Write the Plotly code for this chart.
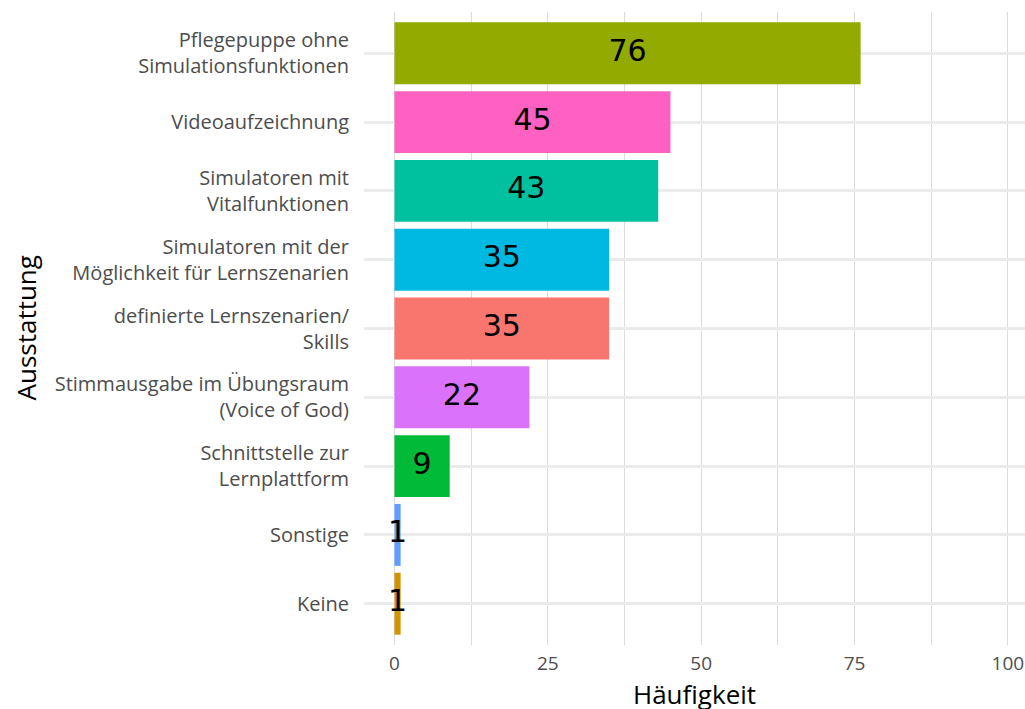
import plotly.graph_objects as go

categories = [
    "Pflegepuppe ohne<br>Simulationsfunktionen",
    "Videoaufzeichnung",
    "Simulatoren mit<br>Vitalfunktionen",
    "Simulatoren mit der<br>Möglichkeit für Lernszenarien",
    "definierte Lernszenarien/<br>Skills",
    "Stimmausgabe im Übungsraum<br>(Voice of God)",
    "Schnittstelle zur<br>Lernplattform",
    "Sonstige",
    "Keine",
]
values = [76, 45, 43, 35, 35, 22, 9, 1, 1]
colors = ["#93AA00", "#FF61C3", "#00C19F", "#00B9E3", "#F8766D",
          "#DB72FB", "#00BA38", "#619CFF", "#D39200"]
x_ticks = [0, 25, 50, 75, 100]

FONT = "Open Sans"

fig = go.Figure()
fig.add_trace(go.Bar(
    x=values, y=categories, orientation="h",
    marker=dict(color=colors, line=dict(width=0)),
    width=0.9, showlegend=False, hoverinfo="x+y",
))
fig.add_trace(go.Scatter(
    x=[v / 2 for v in values], y=categories, mode="text",
    text=[str(v) for v in values],
    textfont=dict(family="DejaVu Sans", size=30, color="black"),
    textposition="middle center", showlegend=False, cliponaxis=False,
    hoverinfo="skip",
))

fig.update_layout(
    width=1025, height=709,
    margin=dict(l=364, r=0, t=12, b=64, autoexpand=False),
    plot_bgcolor="white", paper_bgcolor="white",
    font=dict(family=FONT),
    xaxis=dict(
        range=[-4.97, 102.8],
        tickvals=x_ticks, ticktext=[str(t) for t in x_ticks],
        showgrid=True, gridcolor="#dcdcdc", gridwidth=1,
        minor=dict(dtick=12.5, tick0=0, showgrid=True, gridcolor="#dcdcdc", gridwidth=1),
        zeroline=False, showline=False, automargin=False,
        tickfont=dict(family=FONT, size=19, color="#4d4d4d"),
        ticks="", ticklabelstandoff=5,
    ),
    yaxis=dict(
        categoryorder="array", categoryarray=categories,
        range=[8.6, -0.6],
        showgrid=True, gridcolor="#ebebeb", gridwidth=3,
        zeroline=False, showline=False, automargin=False,
        tickfont=dict(family=FONT, size=20, color="#4d4d4d"),
        ticks="", ticklabelstandoff=14,
    ),
    annotations=[
        dict(text="Häufigkeit", xref="x domain", yref="y domain", x=0.5, y=0,
             xanchor="center", yanchor="top", yshift=-29, showarrow=False,
             font=dict(family=FONT, size=26, color="black")),
        dict(text="Ausstattung", xref="x domain", yref="y domain", x=0, y=0.5,
             xanchor="center", yanchor="middle", xshift=-339, textangle=-90,
             showarrow=False, font=dict(family=FONT, size=26, color="black")),
    ],
)

fig.write_html(
    "out.html",
    config={"displayModeBar": False},
    post_script="document.body.style.margin='0';document.body.style.overflow='hidden';",
)
